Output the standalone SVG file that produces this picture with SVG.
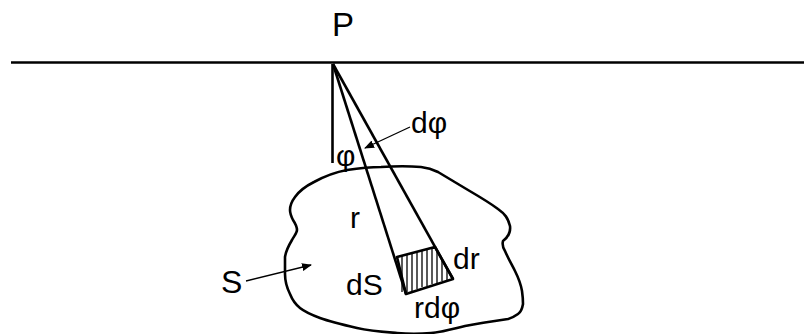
<svg xmlns="http://www.w3.org/2000/svg" width="804" height="334" viewBox="0 0 804 334">
<defs>
<marker id="ah" markerWidth="10" markerHeight="8" refX="9" refY="4" orient="auto" markerUnits="userSpaceOnUse">
<path d="M0,0 L10,4 L0,8 z" fill="#000"/>
</marker>
</defs>
<style>
.ln{stroke:#000;stroke-width:2.6;fill:none;stroke-linejoin:round}
.th{stroke:#000;stroke-width:1.3;fill:none}
.tx{font-family:"Liberation Sans",Arial,sans-serif;font-size:30px;fill:#000}
</style>
<rect width="804" height="334" fill="#fff"/>
<g id="surface">
<line class="ln" x1="11" y1="62.5" x2="804" y2="62.5" stroke-width="3"/>
</g>
<g id="region-S">
<path class="ln" d="M295,197 C300,190 306,186 314,182 C325,176 336,172 347,170 C360,168 370,167 381,167 C395,166 410,166 421,167 C430,168 434,170 438,172 C448,178 458,184 468,190 C480,197 490,203 498,209 C505,214 508,218 510,226 C511,234 507,238 503,241 C502,245 503,248 505,251 C508,258 512,265 515,271 C519,279 521,285 522,291 C523,298 523,302 523,304 C522,310 521,312 518,314 C514,317 511,318 508,319 C494,321 480,323 465,326 C452,329 442,332 431,333 C420,334 408,334 397,333 C384,332 370,331 357,328 C344,325 331,322 320,318 C312,315 305,312 300,308 C295,304 292,299 290,294 C287,288 285,281 285,274 C285,268 285,262 285,257 C286,250 289,245 292,240 C294,236 297,233 297,230 C297,227 295,223 293,220 C291,216 290,213 290,210 C290,205 292,201 295,197 Z"/>
</g>
<g id="rays">
<line class="ln" x1="332.5" y1="64" x2="332.5" y2="163"/>
<line class="ln" x1="333" y1="64" x2="406" y2="294"/>
<line class="ln" x1="333" y1="64" x2="453" y2="279"/>
</g>
<g id="element-dS">
<path class="ln" d="M397,257 L435,247 L453,279 L406,294 Z"/>
<g class="th">
<line x1="402" y1="256" x2="402" y2="292"/>
<line x1="407" y1="255" x2="407" y2="292"/>
<line x1="412" y1="253" x2="412" y2="291"/>
<line x1="417" y1="252" x2="417" y2="289"/>
<line x1="422" y1="251" x2="422" y2="287"/>
<line x1="427" y1="249" x2="427" y2="286"/>
<line x1="432" y1="248" x2="432" y2="284"/>
<line x1="437" y1="251" x2="437" y2="283"/>
<line x1="442" y1="260" x2="442" y2="281"/>
<line x1="447" y1="269" x2="447" y2="280"/>
</g>
</g>
<g id="connectors">
<line x1="410" y1="127" x2="365" y2="148" stroke="#000" stroke-width="1.3" marker-end="url(#ah)"/>
<line x1="246" y1="281" x2="311" y2="265" stroke="#000" stroke-width="1.3" marker-end="url(#ah)"/>
</g>
<g id="labels">
<text class="tx" x="332" y="36" style="font-size:33px">P</text>
<text class="tx" x="411" y="133">dφ</text>
<text class="tx" x="336" y="166">φ</text>
<text class="tx" x="350" y="228">r</text>
<text class="tx" x="453" y="269">dr</text>
<text class="tx" x="346" y="295">dS</text>
<text class="tx" x="414" y="318">rdφ</text>
<text class="tx" x="221" y="293" style="font-size:32px">S</text>
</g>
</svg>
